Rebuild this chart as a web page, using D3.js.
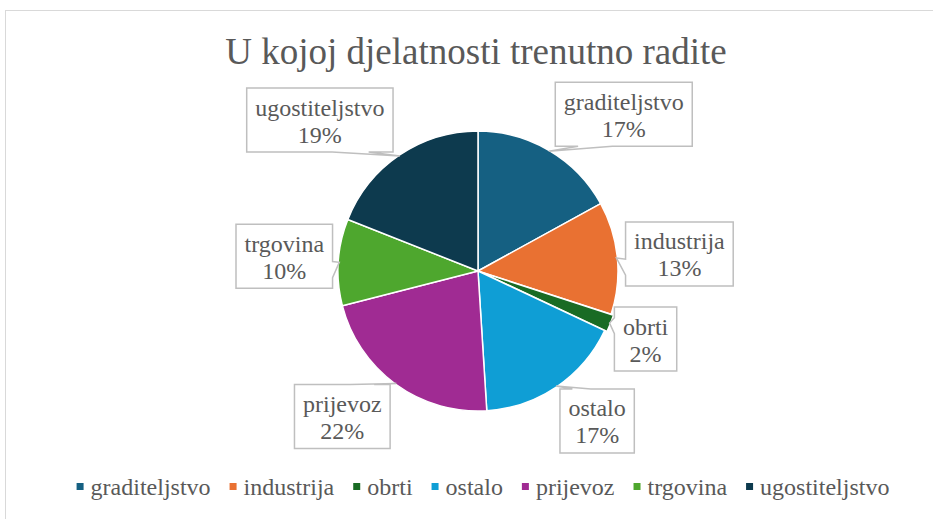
<!DOCTYPE html>
<html>
<head>
<meta charset="utf-8">
<script src="https://cdn.jsdelivr.net/npm/d3@7"></script>
<style>
  html, body { margin: 0; padding: 0; background: #fff; }
  svg { display: block; }
</style>
</head>
<body>
<svg id="chart" width="933" height="519"></svg>
<script>
// Survey answers: share of respondents per line of work (percent)
const categories = ["graditeljstvo", "industrija", "obrti", "ostalo", "prijevoz", "trgovina", "ugostiteljstvo"];
const shares = [17, 13, 2, 17, 22, 10, 19];
const sliceColors = ["#156082", "#E97132", "#196B24", "#0F9ED5", "#A02B93", "#4EA72E", "#0D3A4E"];
const chartTitle = "U kojoj djelatnosti trenutno radite";

// Layout
const W = 933, H = 519;
const cx = 478, cy = 271, R = 140;
const FONT = "'Liberation Serif', 'Times New Roman', Times, serif";
const TEXT_COLOR = "#595959";
const explode = { "obrti": 2.5 };
// where each callout box sits relative to the point it aims at,
// and which edge of the box carries the pointer ("auto", "v" = top/bottom)
const calloutShift = [[75, -37, "auto"], [63, -4, "auto"], [36, 16, "auto"], [41, 35, "v"],
                      [-54, 33, "v"], [-55, -6, "auto"], [-80, -36, "auto"]];

const svg = d3.select("#chart");

// chart area frame
svg.append("rect")
  .attr("x", 5.5).attr("y", 10.5)
  .attr("width", W + 20).attr("height", H + 20)
  .attr("fill", "#fff").attr("stroke", "#D9D9D9").attr("stroke-width", 1);

svg.append("text")
  .attr("x", 476).attr("y", 64)
  .attr("text-anchor", "middle")
  .attr("font-family", FONT).attr("font-size", 37).attr("fill", TEXT_COLOR)
  .text(chartTitle);

const color = d3.scaleOrdinal().domain(categories).range(sliceColors);

const pie = d3.pie().sort(null).value(d => d.value);
const data = categories.map((c, i) => ({ name: c, value: shares[i] }));
const arcs = pie(data);
const arc = d3.arc().innerRadius(0).outerRadius(R);

const g = svg.append("g").attr("transform", `translate(${cx},${cy})`);

g.selectAll("path.slice")
  .data(arcs)
  .join("path")
  .attr("class", "slice")
  .attr("transform", d => {
    const e = explode[d.data.name] || 0;
    const a = (d.startAngle + d.endAngle) / 2;
    return `translate(${e * Math.sin(a)},${-e * Math.cos(a)})`;
  })
  .attr("d", arc)
  .attr("fill", d => color(d.data.name))
  .attr("stroke", "#fff")
  .attr("stroke-width", 1.5)
  .attr("stroke-linejoin", "round");

// wedge-shaped callout (rectangle with a pointer toward the tip)
function calloutPath(l, t, w, h, tx, ty, mode) {
  const r = l + w, b = t + h;
  const hc = l + w / 2, vc = t + h / 2;
  const dx = tx - hc, dy = ty - vc;
  const dq = dx * h / w;
  const vertical = mode === "v" ? true : (Math.abs(dy) - Math.abs(dq) > 0);
  const x1 = l + w * (dx > 0 ? 7 : 2) / 12, x2 = l + w * (dx > 0 ? 10 : 5) / 12;
  const y1 = t + h * (dy > 0 ? 7 : 2) / 12, y2 = t + h * (dy > 0 ? 10 : 5) / 12;
  const p = [[l, t]];
  if (vertical && dy < 0) p.push([x1, t], [tx, ty], [x2, t]);
  p.push([r, t]);
  if (!vertical && dx > 0) p.push([r, y1], [tx, ty], [r, y2]);
  p.push([r, b]);
  if (vertical && dy > 0) p.push([x2, b], [tx, ty], [x1, b]);
  p.push([l, b]);
  if (!vertical && dx < 0) p.push([l, y2], [tx, ty], [l, y1]);
  return "M" + p.map(q => q.join(",")).join("L") + "Z";
}

const labelFont = 24, padX = 8.5, boxH = 64;
const labels = svg.append("g");
arcs.forEach((d, i) => {
  const a = (d.startAngle + d.endAngle) / 2;
  const e = explode[d.data.name] || 0;
  const tx = cx + (R - 1 + e) * Math.sin(a);
  const ty = cy - (R - 1 + e) * Math.cos(a);
  const bx = tx + calloutShift[i][0], by = ty + calloutShift[i][1];

  const lg = labels.append("g");
  const path = lg.append("path");
  const t1 = lg.append("text").attr("x", bx).attr("y", by - 4.5)
    .attr("text-anchor", "middle").attr("font-family", FONT).attr("font-size", labelFont)
    .attr("fill", TEXT_COLOR).text(d.data.name);
  const t2 = lg.append("text").attr("x", bx).attr("y", by + 22.5)
    .attr("text-anchor", "middle").attr("font-family", FONT).attr("font-size", labelFont)
    .attr("fill", TEXT_COLOR).text(d.data.value + "%");
  const tw = Math.max(t1.node().getComputedTextLength(), t2.node().getComputedTextLength());
  const bw = tw + 2 * padX;
  path.attr("d", calloutPath(bx - bw / 2, by - boxH / 2, bw, boxH, tx, ty, calloutShift[i][2]))
    .attr("fill", "#fff").attr("stroke", "#BFBFBF").attr("stroke-width", 1.5)
    .attr("stroke-linejoin", "miter");
});

// legend
const legend = svg.append("g");
const mk = 7, mkGap = 7, itemGap = 19, legendCenter = 483, legendBase = 495;
const items = categories.map(c => {
  const it = legend.append("g");
  it.append("rect").attr("width", mk).attr("height", mk).attr("y", legendBase - 12)
    .attr("fill", color(c));
  const tt = it.append("text").attr("x", mk + mkGap).attr("y", legendBase)
    .attr("font-family", FONT).attr("font-size", 24).attr("fill", TEXT_COLOR).text(c);
  return { g: it, w: mk + mkGap + tt.node().getComputedTextLength() };
});
const total = d3.sum(items, d => d.w) + itemGap * (items.length - 1);
let xPos = legendCenter - total / 2;
items.forEach(it => {
  it.g.attr("transform", `translate(${xPos},0)`);
  xPos += it.w + itemGap;
});
</script>
</body>
</html>
